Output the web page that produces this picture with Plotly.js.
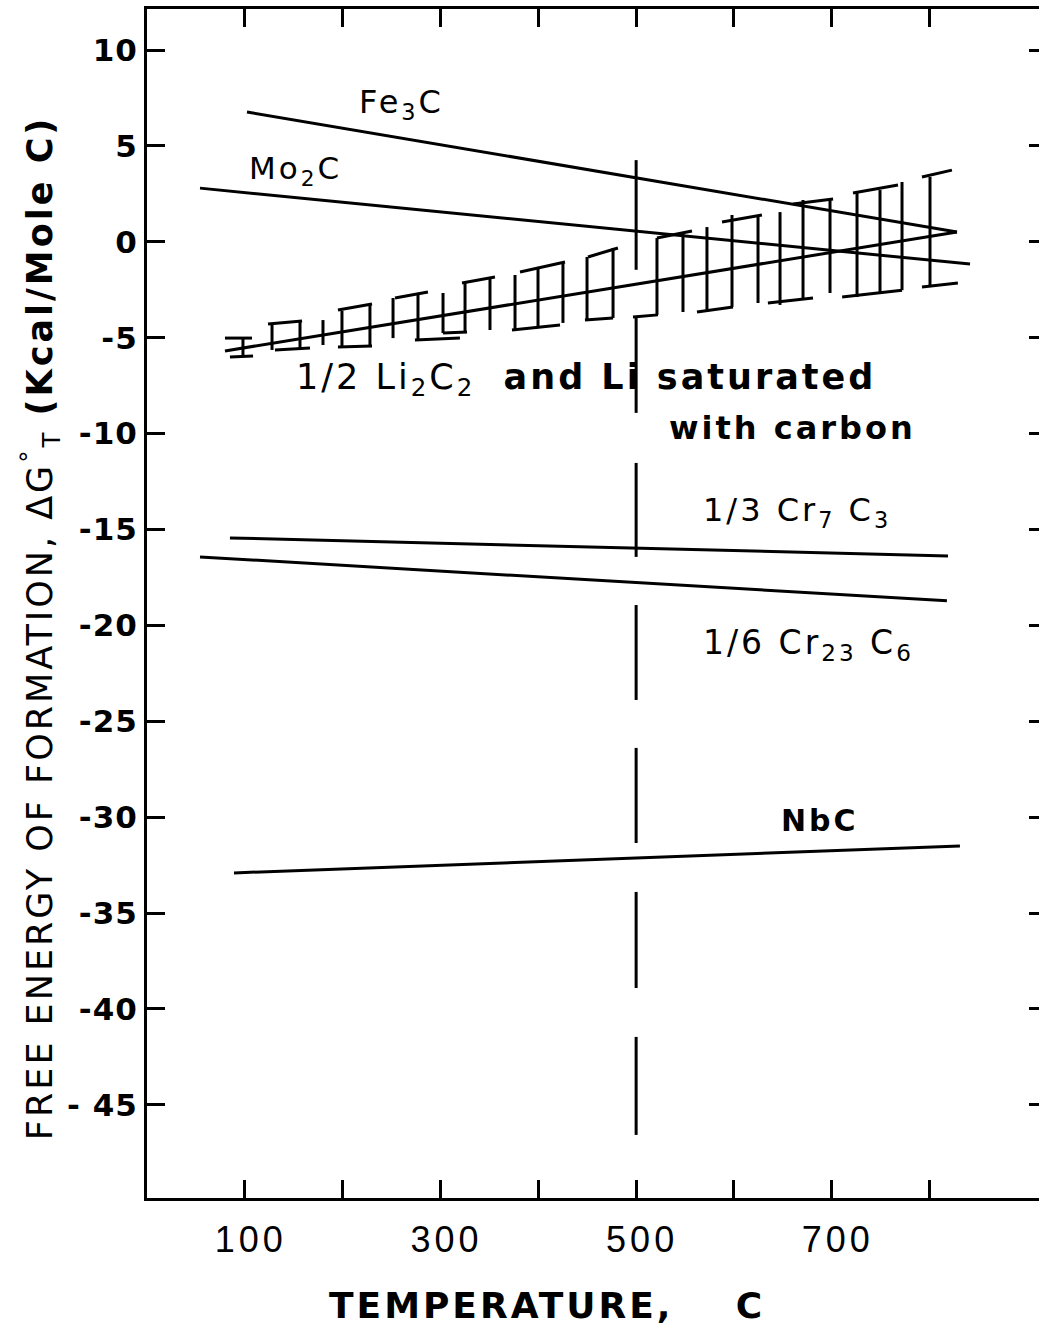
<!DOCTYPE html>
<html>
<head>
<meta charset="utf-8">
<script src="https://cdn.plot.ly/plotly-3.0.1.min.js"></script>
<style>
  html, body { margin: 0; padding: 0; background: #fff; overflow: hidden; }
  #chart { width: 1060px; height: 1330px; }
  .xtick text { letter-spacing: 4px; }
  .ytick text { letter-spacing: 1px; }
  .annotation-text { letter-spacing: 3px; }
</style>
</head>
<body>
<div id="chart"></div>
<script>
// ---- data (temperature in C, free energy in kcal/mole C) ----
const fe3cT = [102.2, 828.0];
const fe3cG = [6.77, 0.51];
const mo2cT = [54.2, 841.3];
const mo2cG = [2.80, -1.16];
const li2c2T = [79.7, 828.0];
const li2c2G = [-5.69, 0.51];
const cr7c3T = [84.8, 818.8];
const cr7c3G = [-15.44, -16.38];
const cr23c6T = [54.2, 817.7];
const cr23c6G = [-16.43, -18.72];
const nbcT = [88.9, 831.0];
const nbcG = [-32.91, -31.50];

// uncertainty band of 1/2 Li2C2 : vertical bars
const barT  = [98.1,127.8,156.4,179.9,199.3,227.9,251.5,277.0,302.6,325.1,350.6,376.2,399.7,425.2,449.8,476.4,521.3,547.9,572.4,598.0,624.6,647.1,670.6,698.2,725.8,749.3,771.8,800.4];
const barHi = [-5.02,-4.23,-4.18,-4.08,-3.60,-3.30,-2.93,-2.67,-2.67,-2.15,-1.84,-1.73,-1.31,-1.05,-0.79,-0.32,0.20,0.51,0.77,1.40,1.40,1.55,2.18,2.18,2.54,2.70,3.12,3.38];
const barLo = [-6.01,-5.64,-5.64,-5.38,-5.48,-5.48,-5.02,-5.12,-4.76,-4.76,-4.60,-4.60,-4.49,-4.23,-4.08,-3.97,-3.81,-3.66,-3.66,-3.40,-3.19,-3.29,-2.93,-2.67,-2.88,-2.67,-2.52,-2.36];
// band edges (caps) joining the bars
const capT0 = [79.7,123.7,195.2,253.5,322.0,381.3,450.8,521.3,587.8,660.3,721.7,792.2, 84.8,130.8,195.2,273.9,302.6,373.1,447.7,496.8,562.2,634.7,710.6,792.2];
const capG0 = [-5.02,-4.29,-3.56,-2.93,-2.15,-1.57,-0.79,0.20,1.03,1.97,2.54,3.38, -6.01,-5.64,-5.48,-5.12,-4.76,-4.60,-4.08,-3.92,-3.66,-3.19,-2.88,-2.36];
const capT1 = [107.3,158.5,230.0,287.2,355.7,427.3,481.4,557.1,628.6,701.3,767.7,822.8, 108.4,166.6,230.0,319.9,327.1,422.2,476.4,522.3,599.0,680.8,771.8,828.9];
const capG1 = [-5.02,-4.13,-3.24,-2.62,-1.84,-1.05,-0.32,0.56,1.40,2.23,2.96,3.74, -5.95,-5.54,-5.43,-5.02,-4.70,-4.34,-3.97,-3.81,-3.40,-2.93,-2.52,-2.15];

// broken vertical reference line at 500 C
const refT = 500;
const refDashTop = [4.26, -3.96, -11.53, -18.94, -26.39, -33.90, -41.46];
const refDashBot = [-1.46, -8.92, -16.43, -23.89, -31.35, -38.91, -46.57];

const xTickVals = [100, 300, 500, 700];
const xTickText = ["100", "300", "500", "700"];
const xMinorVals = [200, 400, 600, 800];
const yTickVals = [10, 5, 0, -5, -10, -15, -20, -25, -30, -35, -40, -45];
const yTickText = ["10", "5", "0", "-5", "-10", "-15", "-20", "-25", "-30", "-35", "-40", "- 45"];

// ---- build traces ----
const lineStyle = {color: '#000', width: 3};
function seg(x, y) {
  return {x: x, y: y, mode: 'lines', type: 'scatter', line: lineStyle, hoverinfo: 'skip', showlegend: false};
}
const barX = [], barY = [];
barT.forEach((t, i) => { barX.push(t, t, null); barY.push(barLo[i], barHi[i], null); });
const capX = [], capY = [];
capT0.forEach((t, i) => { capX.push(t, capT1[i], null); capY.push(capG0[i], capG1[i], null); });
const refX = [], refY = [];
refDashTop.forEach((g, i) => { refX.push(refT, refT, null); refY.push(g, refDashBot[i], null); });

const traces = [
  seg(fe3cT, fe3cG), seg(mo2cT, mo2cG), seg(li2c2T, li2c2G),
  seg(cr7c3T, cr7c3G), seg(cr23c6T, cr23c6G), seg(nbcT, nbcG),
  seg(barX, barY), seg(capX, capY), seg(refX, refY)
];

const labelFont = {family: 'DejaVu Sans, sans-serif', size: 30, color: '#000'};
function lab(text, x, y, size) {
  return {text: text, x: x, y: y, xref: 'x', yref: 'y', showarrow: false,
    xanchor: 'left', yanchor: 'middle', font: Object.assign({}, labelFont, {size: size})};
}

const layout = {
  width: 1060, height: 1330,
  margin: {l: 147, r: 13, t: 9, b: 132},
  paper_bgcolor: '#fff', plot_bgcolor: '#fff',
  showlegend: false,
  xaxis: {
    range: [0, 920], showgrid: false, zeroline: false,
    showline: true, linecolor: '#000', linewidth: 3, mirror: 'ticks',
    ticks: 'inside', ticklen: 18, tickwidth: 3, tickcolor: '#000',
    tickvals: xTickVals, ticktext: xTickText,
    minor: {tickvals: xMinorVals, ticks: 'inside', ticklen: 18, tickwidth: 3, tickcolor: '#000', showgrid: false},
    tickfont: {family: 'Liberation Sans, Arial, sans-serif', size: 36, color: '#000'},
    ticklabelstandoff: 8, ticklabelshift: 6
  },
  yaxis: {
    range: [-49.86, 12.14], showgrid: false, zeroline: false,
    showline: true, linecolor: '#000', linewidth: 3, mirror: 'ticks',
    ticks: 'inside', ticklen: 18, tickwidth: 3, tickcolor: '#000',
    tickvals: yTickVals, ticktext: yTickText,
    tickfont: {family: 'DejaVu Sans, sans-serif', size: 31, color: '#000', weight: 'bold'},
    ticklabelstandoff: 0
  },
  annotations: [
    lab('Fe<sub>3</sub>C', 215, 7.2, 32),
    lab('Mo<sub>2</sub>C', 102, 3.7, 31),
    lab('1/2 Li<sub>2</sub>C<sub>2</sub>  <b>and Li saturated</b>', 150, -7.2, 35),
    lab('<b>with carbon</b>', 532, -9.7, 32),
    lab('1/3 Cr<sub>7</sub> C<sub>3</sub>', 566, -14.1, 32),
    lab('1/6 Cr<sub>23</sub> C<sub>6</sub>', 566, -21.0, 33),
    lab('<b>NbC</b>', 646, -30.2, 30),
    {text: 'FREE ENERGY OF FORMATION, ΔG<sup>°</sup><sub>T</sub> <b>(Kcal/Mole C)</b>',
     xref: 'paper', yref: 'paper', x: -0.119, y: 0.48, textangle: -90, showarrow: false,
     xanchor: 'center', yanchor: 'middle',
     font: {family: 'DejaVu Sans, sans-serif', size: 35, color: '#000'}},
    {text: '<b>TEMPERATURE,\u00a0\u00a0\u00a0\u00a0C</b>',
     xref: 'paper', yref: 'paper', x: 0.444, y: -0.0908, showarrow: false,
     xanchor: 'center', yanchor: 'middle',
     font: {family: 'DejaVu Sans, sans-serif', size: 36, color: '#000'}}
  ]
};

Plotly.newPlot('chart', traces, layout, {staticPlot: true, displayModeBar: false});
</script>
</body>
</html>
